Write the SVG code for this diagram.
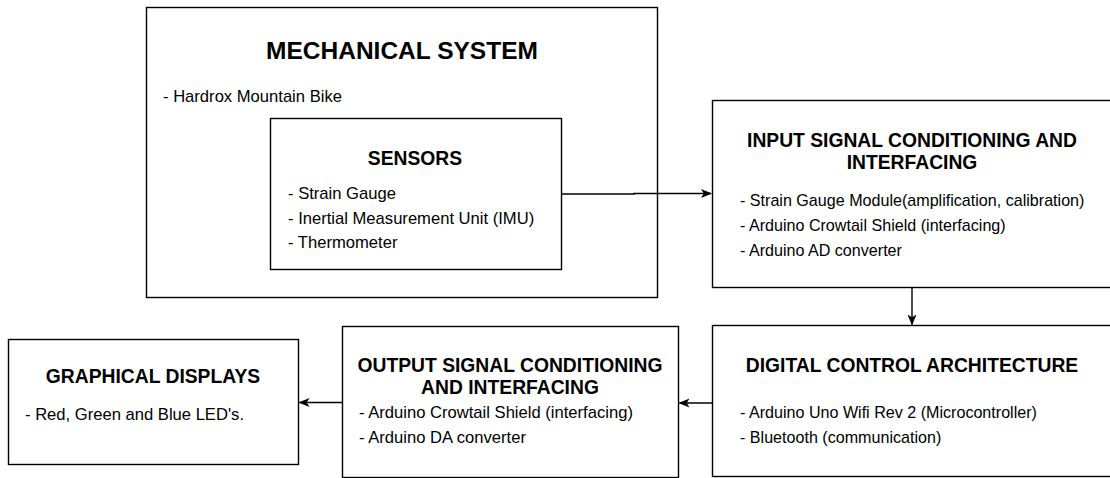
<svg xmlns="http://www.w3.org/2000/svg" width="1110" height="478" viewBox="0 0 1110 478">
<defs>
<style>
.box{fill:#fff;stroke:#000;stroke-width:1.4}
.t{font-family:"Liberation Sans",Arial,sans-serif;font-weight:bold;fill:#000;text-anchor:middle}
.b{font-family:"Liberation Sans",Arial,sans-serif;font-size:16.6px;fill:#000}
.r{font-size:16.1px}
.c{fill:none;stroke:#000;stroke-width:1.4}
</style>
<marker id="arr" viewBox="0 0 11 10" refX="10" refY="5" markerWidth="11" markerHeight="10" markerUnits="userSpaceOnUse" orient="auto">
<path d="M0,0.5 L11,5 L0,9.5 L2.8,5 Z" fill="#000"/>
</marker>
</defs>
<rect width="1110" height="478" fill="#fff"/>
<g id="mechanical">
<rect class="box" x="146.5" y="7.5" width="511" height="290"/>
<text class="t" x="402" y="59" font-size="24.5px">MECHANICAL SYSTEM</text>
<text class="b" x="163" y="102">- Hardrox Mountain Bike</text>
</g>
<g id="sensors">
<rect class="box" x="270.5" y="118.5" width="291" height="151"/>
<text class="t" x="415" y="164.5" font-size="19.3px">SENSORS</text>
<text class="b" x="288" y="198.5">- Strain Gauge</text>
<text class="b" x="288" y="223.5">- Inertial Measurement Unit (IMU)</text>
<text class="b" x="288" y="248">- Thermometer</text>
</g>
<g id="input">
<rect class="box" x="712.5" y="100.5" width="410" height="187"/>
<text class="t" x="912" y="147" font-size="19.3px">INPUT SIGNAL CONDITIONING AND</text>
<text class="t" x="912" y="169" font-size="19.3px">INTERFACING</text>
<text class="b r" x="740" y="206">- Strain Gauge Module(amplification, calibration)</text>
<text class="b r" x="740" y="231">- Arduino Crowtail Shield (interfacing)</text>
<text class="b r" x="740" y="256">- Arduino AD converter</text>
</g>
<g id="digital">
<rect class="box" x="712.5" y="325.5" width="410" height="151"/>
<text class="t" x="912" y="372" font-size="19.3px">DIGITAL CONTROL ARCHITECTURE</text>
<text class="b r" x="740" y="418">- Arduino Uno Wifi Rev 2 (Microcontroller)</text>
<text class="b r" x="740" y="443">- Bluetooth (communication)</text>
</g>
<g id="output">
<rect class="box" x="342.5" y="326.5" width="336" height="151"/>
<text class="t" x="510" y="372" font-size="19.3px">OUTPUT SIGNAL CONDITIONING</text>
<text class="t" x="510" y="394" font-size="19.3px">AND INTERFACING</text>
<text class="b" x="359" y="418">- Arduino Crowtail Shield (interfacing)</text>
<text class="b" x="359" y="443">- Arduino DA converter</text>
</g>
<g id="graphical">
<rect class="box" x="8.5" y="339.5" width="290" height="125"/>
<text class="t" x="153" y="383" font-size="19.3px">GRAPHICAL DISPLAYS</text>
<text class="b" x="25" y="420">- Red, Green and Blue LED's.</text>
</g>
<g id="connectors">
<path class="c" d="M561.5,194 L634,194 L634,193.5 L711,193.5" marker-end="url(#arr)"/>
<path class="c" d="M912,287.5 L912,324.5" marker-end="url(#arr)"/>
<path class="c" d="M712.5,403 L679.5,403" marker-end="url(#arr)"/>
<path class="c" d="M342.5,402.5 L299.5,402.5" marker-end="url(#arr)"/>
</g>
</svg>
